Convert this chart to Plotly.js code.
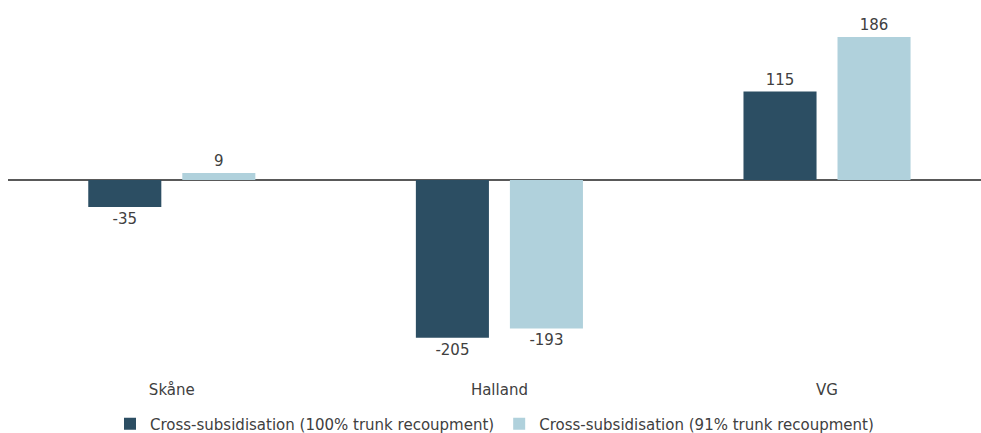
<!DOCTYPE html>
<html>
<head>
<meta charset="utf-8">
<script src="https://cdn.plot.ly/plotly-3.0.1.min.js"></script>
<style>
  html, body { margin: 0; padding: 0; background: #fff; }
  #chart { width: 981px; height: 433px; }
</style>
</head>
<body>
<div id="chart"></div>
<script>
// Regions compared
const regions = ['Skåne', 'Halland', 'VG'];

// Cross-subsidisation per region under two trunk recoupment assumptions
const seriesNames = [
  'Cross-subsidisation (100% trunk recoupment)',
  'Cross-subsidisation (91% trunk recoupment)'
];
const full100 = [-35, -205, 115];
const partial91 = [9, -193, 186];

const seriesColors = ['#2c4e63', '#b0d1dc'];
const fontFamily = '"DejaVu Sans", "Noto Sans", sans-serif';

function barTrace(name, values, color) {
  return {
    type: 'bar',
    name: name,
    x: regions,
    y: values,
    marker: { color: color },
    text: values.map(v => String(v)),
    textposition: 'outside',
    cliponaxis: false,
    textfont: { family: fontFamily, size: 15, color: '#404040' },
    hoverinfo: 'x+y'
  };
}

const traces = [
  barTrace(seriesNames[0], full100, seriesColors[0]),
  barTrace(seriesNames[1], partial91, seriesColors[1])
];

const layout = {
  width: 981,
  height: 433,
  margin: { l: 8, r: 0, t: 0, b: 54, autoexpand: false },
  paper_bgcolor: '#ffffff',
  plot_bgcolor: '#ffffff',
  font: { family: fontFamily, size: 15, color: '#404040' },
  barmode: 'group',
  bargap: 0.426,
  bargroupgap: 0.223,
  showlegend: true,
  legend: {
    orientation: 'h',
    x: 0.5,
    xanchor: 'center',
    xref: 'paper',
    yref: 'container',
    y: 0.021,
    yanchor: 'middle',
    font: { family: fontFamily, size: 15, color: '#404040' },
    itemwidth: 30,
    traceorder: 'normal'
  },
  xaxis: {
    type: 'category',
    range: [-0.5, 2.47],
    showline: false,
    showgrid: false,
    zeroline: false,
    ticks: '',
    tickfont: { family: fontFamily, size: 15, color: '#404040' },
    fixedrange: true
  },
  yaxis: {
    range: [-258.8, 234.1],
    showgrid: false,
    showticklabels: false,
    ticks: '',
    showline: false,
    zeroline: true,
    zerolinecolor: '#595959',
    zerolinewidth: 1.5,
    fixedrange: true
  }
};

Plotly.newPlot('chart', traces, layout, { displayModeBar: false, staticPlot: true });
</script>
</body>
</html>
